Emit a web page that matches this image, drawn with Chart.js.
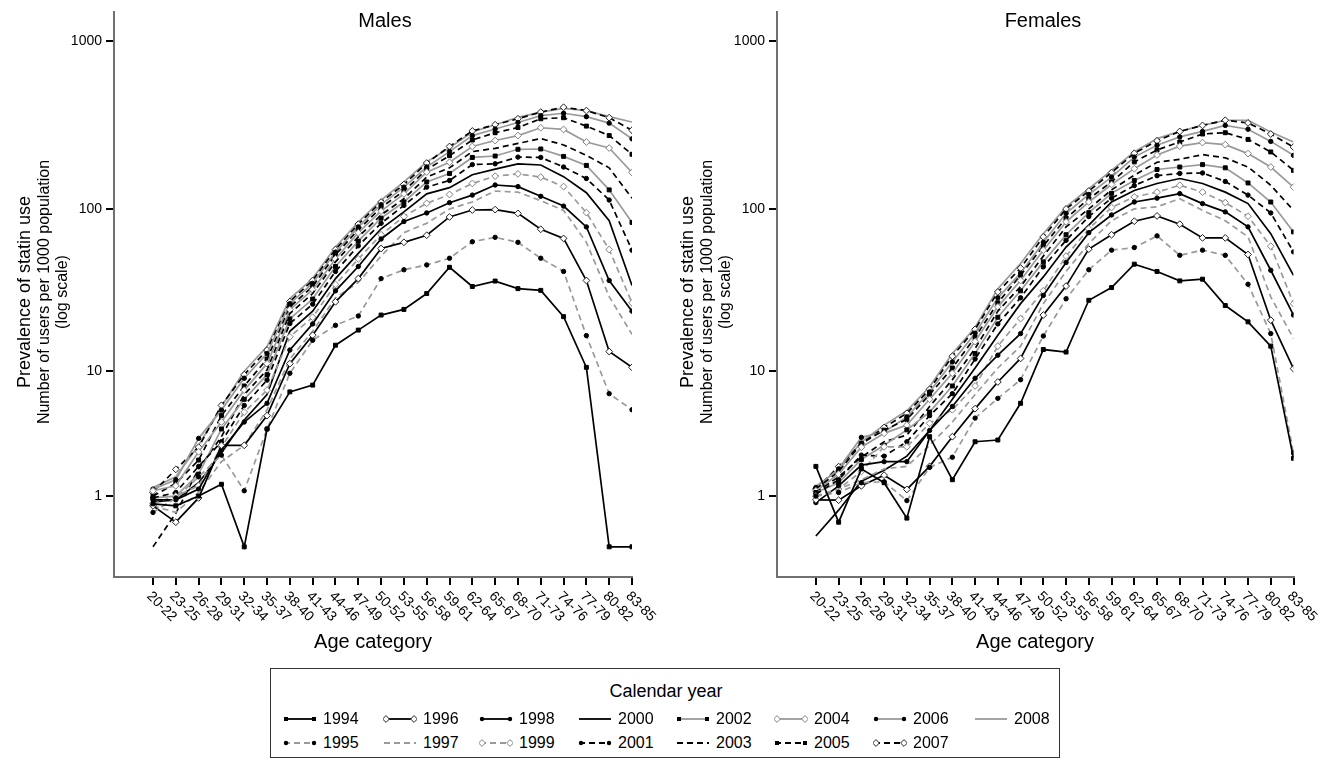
<!DOCTYPE html>
<html>
<head>
<meta charset="utf-8">
<script src="https://cdn.jsdelivr.net/npm/chart.js@4.4.1/dist/chart.umd.min.js"></script>
<style>
  body{margin:0;background:#fff;width:1331px;height:760px;overflow:hidden;position:relative;
       font-family:"Liberation Sans",Arial,Helvetica,sans-serif;color:#000}
  canvas{position:absolute;top:0}
  .t{position:absolute;white-space:nowrap;transform:translate(-50%,-50%);line-height:1}
  .r{transform:translate(-50%,-50%) rotate(-90deg)}
  #legend{position:absolute;left:270px;top:668px;width:790px;height:90px;border:1.5px solid #333;box-sizing:border-box}
  .li{position:absolute;display:flex;align-items:center;font-size:16px;white-space:nowrap;transform:translateY(-50%)}
  .li svg{margin-right:6px}
</style>
</head>
<body>
<canvas id="cM" width="660" height="650" style="left:0px"></canvas>
<canvas id="cF" width="668" height="650" style="left:663px"></canvas>

<div class="t" style="left:385px;top:20px;font-size:20px">Males</div>
<div class="t" style="left:1043px;top:20px;font-size:20px">Females</div>

<div class="t r" style="left:24px;top:292px;font-size:18px">Prevalence of statin use</div>
<div class="t r" style="left:44px;top:292px;font-size:16px">Number of users per 1000 population</div>
<div class="t r" style="left:62px;top:292px;font-size:16px">(log scale)</div>
<div class="t r" style="left:687px;top:292px;font-size:18px">Prevalence of statin use</div>
<div class="t r" style="left:707px;top:292px;font-size:16px">Number of users per 1000 population</div>
<div class="t r" style="left:725px;top:292px;font-size:16px">(log scale)</div>

<div class="t" style="left:373px;top:641px;font-size:20px">Age category</div>
<div class="t" style="left:1035px;top:641px;font-size:20px">Age category</div>

<div id="legend"><div class="t" style="left:395px;top:22px;font-size:18px">Calendar year</div></div>

<script>
// ---------- data ----------
const categories = ["20-22","23-25","26-28","29-31","32-34","35-37","38-40","41-43","44-46","47-49","50-52",
  "53-55","56-58","59-61","62-64","65-67","68-70","71-73","74-76","77-79","80-82","83-85"];
const years = [1994,1995,1996,1997,1998,1999,2000,2001,2002,2003,2004,2005,2006,2007,2008];
const yTickValues = [1, 10, 100, 1000];
const yTickLabels = ["1", "10", "100", "1000"];

// Males: users per 1000 population
const m1994 = [0.8,0.75,1.0,1.35,0,4.0,7.3,8.1,14.7,18.3,22.7,24.6,30.8,44.5,34,36.7,33,32.2,22.2,10.6,0,0];
const m1995 = [0.6,0.95,1.6,2.5,1.15,4.0,9.7,15.8,19.6,22.4,38,43,46,50.5,63.5,67.5,63,50.5,42,16.9,7.1,5.5];
const m1996 = [0.75,0.4,0.95,3.0,3.0,5.0,11.2,17,27.4,38,57.8,63,69.5,89.5,98.5,99,94,75.5,66.5,37,13.4,10.6];
const m1997 = [0.75,0.6,1.1,2.2,3.0,5.5,12,18,29,36,52,72,82,100,110,128,126,112,98,63,29.5,17.2];
const m1998 = [0.9,0.9,1.2,2.75,4.5,6.1,13.7,20,32,45,66,84,94.6,109,121,139,136,119,104,78,37,24];
const m1999 = [0.8,1.0,1.3,2.9,5.3,7.5,16.6,22,35,50,70,90,108,122,142,157,162,155,136,95,57,27];
const m2000 = [0.85,0.9,1.4,2.6,4.65,7.0,18,24,38,54,76,96,123,134,160,173,186,183,156,125,85,34.5];
const m2001 = [0.95,1.1,2.0,3.2,5.9,8.75,20.1,26.5,42,60,82,105,135,148,184,186,204,203,178,152,113,56.5];
const m2002 = [0.95,1.0,1.7,4.0,6.5,9.5,21.5,28.5,45,64,88,110,145,163,203,207,227,228,206,182,130,83];
const m2003 = [0,0.58,1.9,3.5,7.0,10.2,23.2,30.8,48,68,92,115,155,176,220,230,246,263,241,209,176,116];
const m2004 = [1.15,1.3,2.66,4.5,7.5,11.2,24.5,32.5,50,72,97,123,166,190,236,256,274,305,298,251,231,165];
const m2005 = [1.0,1.38,2.27,5.0,8.0,12,25.5,34,53,75,102,128,172,208,258,285,306,345,350,312,274,212];
const m2006 = [1.2,1.5,3.4,5.47,9.0,13,26.7,35.5,55,78,106,135,178,220,274,300,328,360,372,355,325,262];
const m2007 = [1.1,1.88,2.9,5.9,9.5,13.7,27.5,37,57,81,110,140,188,236,292,318,345,378,404,386,350,295];
const m2008 = [1.25,1.6,3.0,5.8,10,14.4,28.7,38,59,83.5,113,145,191,232,288,318,352,378,398,386,355,330];

// Females: users per 1000 population
const f1994 = [2.0,0.4,1.9,1.4,0.48,3.5,1.5,3.2,3.3,6.1,13.8,13.3,28,33.5,46.5,42,36.8,37.7,26,20.6,14.5,2.35];
const f1995 = [1.0,1.1,1.4,1.43,0.88,1.96,2.4,4.8,6.6,8.8,16.8,28.6,43,56.5,58.6,68.9,52.6,56.5,52.6,35.1,17.4,2.6];
const f1996 = [0.9,0.89,1.3,1.66,1.19,2.0,3.5,5.6,8.5,12.1,22.7,34.2,57.3,70,84.4,90.8,81,67,67,53.2,21.1,10.4];
const f1997 = [1.0,1.2,1.5,1.9,2.0,3.0,4.5,7.0,10.5,14.5,26.7,42,62,85,100,103,115,98,85,68,29.4,16.2];
const f1998 = [0.83,1.3,2.05,2.2,2.2,3.9,5.8,9.0,12.7,17.4,30,47.6,72,92,110,116,123.5,107.6,96,78,42.7,22.7];
const f1999 = [1.0,1.2,1.8,2.92,2.92,4.4,5.5,8.0,14.5,21.6,32,52,76,102,118,126,138.5,126,109,90.4,59.7,26.7];
const f2000 = [0.16,0.65,1.45,1.85,2.45,3.9,6.5,10.5,17,26.7,38.9,59,80,110,129,142,152,142,126,107.6,71,39.8];
const f2001 = [1.05,1.5,2.5,2.45,3.2,5.0,7.1,12,20,29,44.8,64.8,90,116,138,158,163,164,146,121,94.6,55.2];
const f2002 = [1.1,1.4,2.3,3.0,3.94,5.3,8.0,13,22,32,48,70,95,124,148,172,178,184,176,143,110,72.8];
const f2003 = [1.1,1.6,2.4,3.2,3.6,5.8,8.8,14,24,34,52,78,100,130,159,190,198,211,202,178,138.5,98];
const f2004 = [1.15,1.7,2.9,3.71,4.27,6.5,9.7,15.5,25.5,37,56.5,83.6,110,140,174,210,237,249,242,214,178,135];
const f2005 = [1.2,1.79,3.1,3.92,4.7,7.0,10.5,16.5,27,39.8,60,88,115,145,191,225,251,280,285,260,219,170];
const f2006 = [1.25,1.9,3.46,3.8,4.9,7.3,11.5,17.5,29,41,63,94,122,155,204,240,269,290,315,299,253,209];
const f2007 = [1.2,1.99,3.1,4.1,5.2,7.6,12.5,18.5,31.5,44,68,100,128,165,215,255,290,315,338,326,280,234];
const f2008 = [1.29,1.85,3.2,4.27,5.41,7.9,13,19,33,46.9,71,103,132,170,219,263,290,315,338,338,288,251];

const malesData = [m1994,m1995,m1996,m1997,m1998,m1999,m2000,m2001,m2002,m2003,m2004,m2005,m2006,m2007,m2008];
const femalesData = [f1994,f1995,f1996,f1997,f1998,f1999,f2000,f2001,f2002,f2003,f2004,f2005,f2006,f2007,f2008];

// ---------- styles ----------
const BLACK = '#000', GREY = '#9a9a9a';
const DASH = [6,4];
const yearStyle = {
  1994:{c:BLACK,d:[],m:'rect'},   1995:{c:GREY,d:DASH,m:'dot'},
  1996:{c:BLACK,d:[],m:'diamond'},1997:{c:GREY,d:DASH,m:null},
  1998:{c:BLACK,d:[],m:'dot'},    1999:{c:GREY,d:DASH,m:'diamond'},
  2000:{c:BLACK,d:[],m:null},     2001:{c:BLACK,d:DASH,m:'dot'},
  2002:{c:GREY,d:[],m:'rect'},    2003:{c:BLACK,d:DASH,m:null},
  2004:{c:GREY,d:[],m:'diamond'}, 2005:{c:BLACK,d:DASH,m:'rect'},
  2006:{c:GREY,d:[],m:'dot'},     2007:{c:BLACK,d:DASH,m:'diamond'},
  2008:{c:GREY,d:[],m:null}
};
function markerProps(s){
  if(!s.m) return {pointRadius:0, pointStyle:'circle'};
  if(s.m==='rect') return {pointStyle:'rect', pointRadius:2.8, pointBackgroundColor:'#000', pointBorderColor:'#000', pointBorderWidth:1};
  if(s.m==='dot') return {pointStyle:'circle', pointRadius:2.2, pointBackgroundColor:'#000', pointBorderColor:'#000', pointBorderWidth:1};
  return {pointStyle:'rectRot', pointRadius:3.4, pointBackgroundColor:'#fff',
          pointBorderColor: s.c===GREY ? '#808080' : '#222', pointBorderWidth:1};
}
const tr = v => Math.log10(v + 1);   // axis is log10(value+1)

function buildDatasets(series){
  return years.map((yr,k)=>{
    const s = yearStyle[yr];
    return Object.assign({
      label: String(yr),
      data: series[k].map((v,i)=>({x:i, y:tr(v)})),
      borderColor: s.c, borderDash: s.d, borderWidth: 1.7,
      tension: 0, fill: false, pointHoverRadius: 0
    }, markerProps(s));
  });
}

const rotLabels = {
  id:'rotLabels',
  afterDraw(chart){
    const {ctx, chartArea, scales} = chart;
    const x = scales.x;
    ctx.save();
    ctx.font = '14px "Liberation Sans", Arial, sans-serif';
    ctx.fillStyle = '#000';
    ctx.textAlign = 'left';
    ctx.textBaseline = 'middle';
    categories.forEach((c,i)=>{
      const px = x.getPixelForValue(i);
      ctx.save();
      ctx.translate(px - 4, chartArea.bottom + 17);
      ctx.rotate(Math.PI/4);
      ctx.fillText(c, 0, 0);
      ctx.restore();
    });
    ctx.restore();
  }
};

Chart.defaults.font.family = '"Liberation Sans", Arial, sans-serif';

function makeChart(id, series, padRight){
  return new Chart(document.getElementById(id), {
    type:'line',
    data:{datasets: buildDatasets(series)},
    plugins:[rotLabels],
    options:{
      responsive:false, animation:false,
      layout:{padding:{top:12, right:padRight, left:0, bottom:0}},
      plugins:{legend:{display:false}, tooltip:{enabled:false}},
      scales:{
        x:{
          type:'linear', min:-1.71, max:21, bounds:'data',
          afterBuildTicks: s => { s.ticks = categories.map((c,i)=>({value:i})); },
          afterFit: s => { s.height = 73; },
          ticks:{display:false},
          grid:{drawOnChartArea:false, drawTicks:true, tickLength:8, color:'#000', lineWidth:2},
          border:{display:true, color:'#707070', width:2}
        },
        y:{
          type:'linear', min:-0.179, max:3.17, bounds:'data',
          afterBuildTicks: s => { s.ticks = yTickValues.map(v=>({value:tr(v)})); },
          afterFit: s => { s.width = 114; },
          ticks:{callback:(val,idx)=>yTickLabels[idx], color:'#000', font:{size:14}, padding:4},
          grid:{drawOnChartArea:false, drawTicks:true, tickLength:8, color:'#000', lineWidth:2},
          border:{display:true, color:'#707070', width:2}
        }
      }
    }
  });
}

makeChart('cM', malesData, 28);
makeChart('cF', femalesData, 37.5);

// ---------- legend ----------
const legendRow1 = [1994,1996,1998,2000,2002,2004,2006,2008];
const legendRow2 = [1995,1997,1999,2001,2003,2005,2007];
const colX = [12,112,208,307,405,503,602,703];   // relative to legend box
const rowY = [50,74];
function sampleSVG(s){
  const dash = s.d.length ? `stroke-dasharray="${s.d.join(',')}"` : '';
  let mk = '';
  [3,31].forEach(cx=>{
    if(s.m==='rect') mk += `<rect x="${cx-2}" y="4" width="4" height="4" fill="#000"/>`;
    else if(s.m==='dot') mk += `<circle cx="${cx}" cy="6" r="2.2" fill="#000"/>`;
    else if(s.m==='diamond') mk += `<polygon points="${cx},2.6 ${cx+3.4},6 ${cx},9.4 ${cx-3.4},6" fill="#fff" stroke="${s.c===GREY?'#808080':'#222'}" stroke-width="1"/>`;
  });
  return `<svg width="34" height="12"><line x1="1" y1="6" x2="33" y2="6" stroke="${s.c}" stroke-width="1.8" ${dash}/>${mk}</svg>`;
}
const lg = document.getElementById('legend');
[legendRow1, legendRow2].forEach((row,r)=>{
  row.forEach((yr,i)=>{
    const d = document.createElement('div');
    d.className = 'li';
    d.style.left = colX[i] + 'px';
    d.style.top = rowY[r] + 'px';
    d.innerHTML = sampleSVG(yearStyle[yr]) + '<span>' + yr + '</span>';
    lg.appendChild(d);
  });
});
</script>
</body>
</html>
